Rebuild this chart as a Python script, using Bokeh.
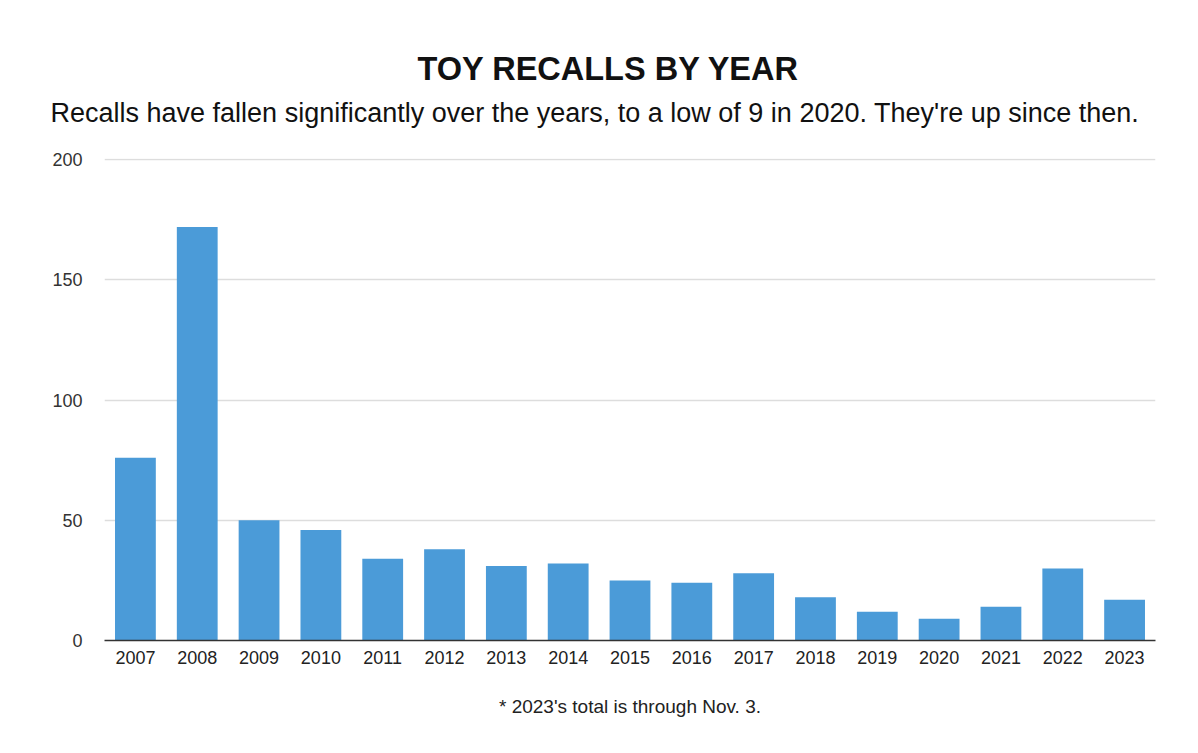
from bokeh.plotting import figure
from bokeh.models import Range1d, Title, ColumnDataSource
from bokeh.embed import file_html
from bokeh.resources import INLINE

years = ["2007", "2008", "2009", "2010", "2011", "2012", "2013", "2014", "2015",
         "2016", "2017", "2018", "2019", "2020", "2021", "2022", "2023"]
recalls = [76, 172, 50, 46, 34, 38, 31, 32, 25, 24, 28, 18, 12, 9, 14, 30, 17]
y_ticks = [0, 50, 100, 150, 200]

title_text = "TOY RECALLS BY YEAR"
subtitle_text = "Recalls have fallen significantly over the years, to a low of 9 in 2020. They're up since then."
note_text = "* 2023's total is through Nov. 3."

FONT = "Liberation Sans"

source = ColumnDataSource(data=dict(year=years, recalls=recalls))

p = figure(width=1198, height=753, x_range=years, y_range=Range1d(0, 200.5),
           output_backend="svg", toolbar_location=None,
           min_border_left=104, min_border_right=43, min_border_top=158, min_border_bottom=113)
p.title = None

p.vbar(x="year", top="recalls", width=0.66, source=source,
       fill_color="#4b9bd8", line_color=None)

# spacer between frame and subtitle
spacer = Title(text=" ", align="left", standoff=17.5, text_font=FONT, text_font_size="10px")
p.add_layout(spacer, "above")
sub = Title(text=subtitle_text, align="left", offset=-54, standoff=0,
            text_font=FONT, text_font_size="27px", text_font_style="normal", text_color="#111111")
p.add_layout(sub, "above")
ttl = Title(text=title_text, align="left", offset=313, standoff=18,
            text_font=FONT, text_font_size="32.5px", text_font_style="bold", text_color="#111111")
p.add_layout(ttl, "above")

note = Title(text=note_text, align="center", standoff=55,
             text_font=FONT, text_font_size="19px", text_font_style="normal", text_color="#222222")
p.add_layout(note, "below")

# axes
p.yaxis.ticker = y_ticks
p.yaxis.axis_line_color = None
p.yaxis.major_tick_line_color = None
p.yaxis.minor_tick_line_color = None
p.yaxis.major_label_standoff = 16
p.yaxis.major_label_text_font = FONT
p.yaxis.major_label_text_font_size = "18px"
p.yaxis.major_label_text_color = "#333333"

p.xaxis.axis_line_color = "#333333"
p.xaxis.axis_line_width = 1.5
p.xaxis.major_tick_line_color = None
p.xaxis.minor_tick_line_color = None
p.xaxis.major_label_standoff = 4
p.xaxis.major_label_text_font = FONT
p.xaxis.major_label_text_font_size = "18px"
p.xaxis.major_label_text_color = "#222222"

p.xgrid.grid_line_color = None
p.ygrid.grid_line_color = "#dddddd"
p.ygrid.grid_line_width = 1.5

p.outline_line_color = None
p.background_fill_color = "white"
p.border_fill_color = "white"

open("out.html", "w").write(file_html(p, INLINE))
